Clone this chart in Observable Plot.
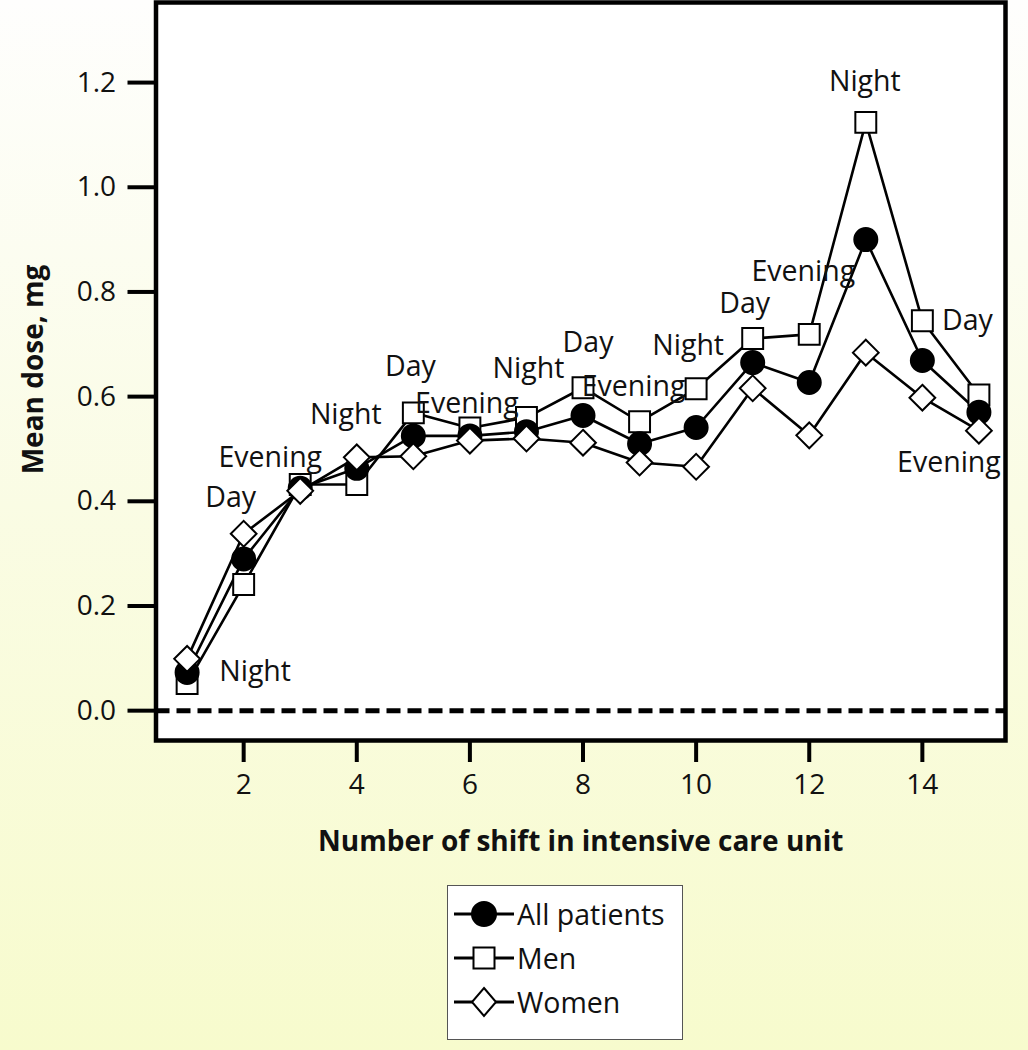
<!DOCTYPE html>
<html>
<head>
<meta charset="utf-8">
<script src="https://cdn.jsdelivr.net/npm/d3@7"></script>
<script src="https://cdn.jsdelivr.net/npm/@observablehq/plot@0.6"></script>
<style>
  html, body { margin: 0; padding: 0; }
  body {
    width: 1028px; height: 1050px; overflow: hidden;
    background: linear-gradient(to bottom, #fefefd 0%, #fafce4 48%, #f7fbcd 100%);
    font-family: "Open Sans", sans-serif; color: #111;
    position: relative;
  }
  #chart svg { display: block; background: transparent; }
  #legend {
    position: absolute; left: 447px; top: 885px; width: 236px; height: 155px;
    border: 1.5px solid #555; background: #fff; box-sizing: border-box;
  }
  .row { position: absolute; left: 4px; height: 40px; display: flex; align-items: center; }
  .row span { font-size: 28.5px; margin-left: 1px; line-height: 1; }
</style>
</head>
<body>
<div id="chart"></div>
<div id="legend"></div>
<script>
const shifts = [1, 2, 3, 4, 5, 6, 7, 8, 9, 10, 11, 12, 13, 14, 15];
const shiftNames = ["Night", "Day", "Evening", "Night", "Day", "Evening", "Night", "Day", "Evening",
                    "Night", "Day", "Evening", "Night", "Day", "Evening"];
const allPatients = [0.073, 0.29, 0.425, 0.463, 0.525, 0.525, 0.533, 0.564, 0.51, 0.541, 0.665, 0.627, 0.90, 0.669, 0.57];
const men         = [0.052, 0.241, 0.432, 0.432, 0.569, 0.54, 0.56, 0.617, 0.552, 0.615, 0.711, 0.719, 1.124, 0.745, 0.603];
const women       = [0.099, 0.338, 0.42, 0.484, 0.486, 0.516, 0.52, 0.512, 0.474, 0.466, 0.616, 0.526, 0.684, 0.598, 0.535];
const seriesNames = ["All patients", "Men", "Women"];
const yTicks = [0, 0.2, 0.4, 0.6, 0.8, 1.0, 1.2];
const xTicks = [2, 4, 6, 8, 10, 12, 14];

// label offsets in pixels (style), relative to the highest point at each shift
const labelOffsets = [[68, 13], [-13, -36], [-30, -27], [-11, -42], [-3, -46], [-3, -24], [2, -49],
                      [5, -45], [-6, -35], [-8, -43], [-8, -35], [-6, -62], [-1, -40], [45, 0], [-30, 68]];

const rows = [];
seriesNames.forEach((s, si) => {
  const vals = [allPatients, men, women][si];
  shifts.forEach((x, i) => rows.push({series: s, x, y: vals[i]}));
});
const tops = shifts.map((x, i) => ({x, y: Math.max(allPatients[i], men[i], women[i]), name: shiftNames[i]}));

const symbolFor = {"All patients": "circle", "Men": "square", "Women": "diamond2"};
const rFor = {"All patients": 11.5, "Men": 11.8, "Women": 11.6};

const marks = [
  Plot.frame({fill: "white", stroke: null}),
  Plot.ruleY([0], {stroke: "#000", strokeWidth: 5, strokeDasharray: "14,7"}),
  Plot.line(rows, {x: "x", y: "y", z: "series", stroke: "#000", strokeWidth: 2.6}),
];
for (const s of ["Men", "All patients", "Women"]) {
  const filled = s === "All patients";
  marks.push(Plot.dot(rows.filter(d => d.series === s), {
    x: "x", y: "y", symbol: symbolFor[s], r: rFor[s],
    fill: filled ? "#000" : "#fff", stroke: "#000", strokeWidth: 2
  }));
}
tops.forEach((d, i) => {
  marks.push(Plot.text([d], {x: "x", y: "y", text: "name", dx: labelOffsets[i][0], dy: labelOffsets[i][1],
    fontSize: 28.5, fill: "#111"}));
});
marks.push(
  Plot.axisY({ticks: yTicks, tickFormat: d3.format(".1f"), tickSize: 28, tickPadding: 12,
    fontSize: 28, strokeWidth: 4, stroke: "#000", fill: "#111", label: null}),
  Plot.axisX({ticks: xTicks, tickFormat: d => d, tickSize: 22, tickPadding: 12,
    fontSize: 28, strokeWidth: 4, stroke: "#000", fill: "#111", label: null}),
  Plot.frame({stroke: "#000", strokeWidth: 4.5}),
  Plot.text(["Mean dose, mg"], {frameAnchor: "left", text: d => d, rotate: -90, dx: -122, dy: -2,
    textAnchor: "middle", fontSize: 28, fontWeight: "bold", fill: "#111"}),
  Plot.text(["Number of shift in intensive care unit"], {frameAnchor: "bottom", text: d => d, dy: 110,
    textAnchor: "middle", fontSize: 28, fontWeight: "bold", fill: "#111"})
);

const chart = Plot.plot({
  width: 1028, height: 870,
  marginLeft: 155.5, marginRight: 23, marginTop: 2, marginBottom: 130,
  x: {domain: [0.45, 15.47]},
  y: {domain: [-0.057, 1.353]},
  style: {fontFamily: "Open Sans", background: "transparent", overflow: "visible"},
  marks
});
document.getElementById("chart").appendChild(chart);

// legend
const legend = document.getElementById("legend");
const symSvg = {
  "All patients": '<circle cx="32" cy="20" r="12" fill="#000" stroke="#000" stroke-width="2"/>',
  "Men": '<rect x="21.5" y="9.5" width="21" height="21" fill="#fff" stroke="#000" stroke-width="2"/>',
  "Women": '<path d="M32,6 L44,20 L32,34 L20,20 Z" fill="#fff" stroke="#000" stroke-width="2"/>'
};
seriesNames.forEach((s, i) => {
  const row = document.createElement("div");
  row.className = "row";
  row.style.top = (8 + i * 44) + "px";
  row.innerHTML = '<svg width="64" height="40"><line x1="2" y1="20" x2="62" y2="20" stroke="#000" stroke-width="3"/>' +
    symSvg[s] + '</svg><span>' + s + '</span>';
  legend.appendChild(row);
});
</script>
</body>
</html>
